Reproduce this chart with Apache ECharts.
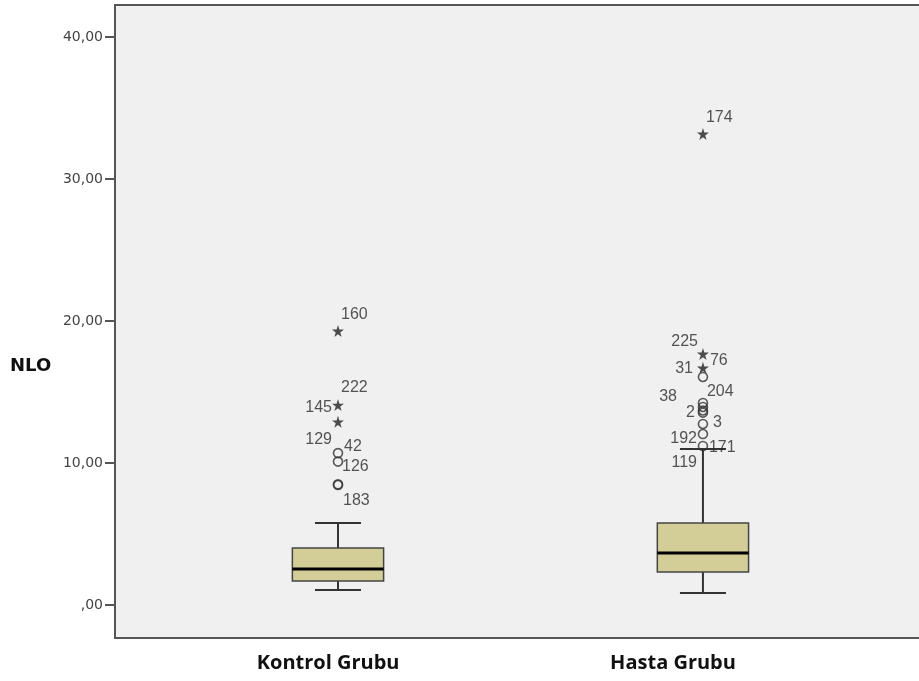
<!DOCTYPE html>
<html>
<head>
<meta charset="utf-8">
<script src="https://cdn.jsdelivr.net/npm/echarts@6/dist/echarts.min.js"></script>
<style>
  html, body { margin: 0; padding: 0; background: #fff; }
  #chart { width: 919px; height: 681px; }
</style>
</head>
<body>
<div id="chart"></div>
<script>
// box statistics per group
var categories = ['Kontrol Grubu', 'Hasta Grubu'];
var lowerWhisker = [1.06, 0.85];
var q1 = [1.69, 2.32];
var median = [2.54, 3.66];
var q3 = [4.01, 5.77];
var upperWhisker = [5.77, 10.99];
var yTicks = [0, 10, 20, 30, 40];

// outliers (o) and extremes (*)
var kontrolOutliers = [10.7, 10.1, 8.45, 8.5];
var kontrolExtremes = [19.3, 14.08, 12.9];
var hastaOutliers = [16.06, 14.23, 13.95, 13.7, 13.55, 12.75, 12.04, 11.2];
var hastaExtremes = [33.17, 17.68, 16.7];

// case numbers written next to the points
var caseIds = ['160', '222', '145', '129', '42', '126', '183',
  '174', '225', '76', '31', '38', '204', '2', '3', '192', '171', '119'];
var caseGroup = [0, 0, 0, 0, 0, 0, 0, 1, 1, 1, 1, 1, 1, 1, 1, 1, 1, 1];
var caseValues = [19.3, 14.08, 14.08, 10.7, 10.7, 10.1, 8.45,
  33.17, 17.68, 17.68, 16.7, 13.95, 14.23, 13.55, 12.75, 12.04, 11.2, 11.2];

// label placement (pixels from the point), kept apart from the data
var labelPos = [
  [3, -16, 'left'], [3, -17, 'left'], [-6, 3, 'right'], [-6, -13, 'right'],
  [6, -6, 'left'], [4, 5, 'left'], [5, 16, 'left'],
  [3, -16, 'left'], [-5, -12, 'right'], [7, 7, 'left'], [-10, 1, 'right'],
  [-26, -10, 'right'], [4, -11, 'left'], [-8, 0, 'right'], [10, -1, 'left'],
  [-6, 5, 'right'], [6, 2, 'left'], [-6, 17, 'right']
];
var catLabelAt = [0.973, 1.918];

var starPath = 'path://M50,0 L61,35 L98,35 L68,57 L79,91 L50,70 L21,91 L32,57 L2,35 L39,35 Z';

var boxData = categories.map(function (c, i) {
  return [i + 1, lowerWhisker[i], q1[i], median[i], q3[i], upperWhisker[i]];
});

function pts(arr, x) {
  return arr.map(function (v) { return [x, v]; });
}

var chart = echarts.init(document.getElementById('chart'));

var frameLine = { show: true, onZero: false, lineStyle: { color: '#555', width: 2 } };

var option = {
  backgroundColor: '#fff',
  animation: false,
  grid: {
    left: 115, right: 0, top: 5, bottom: 43,
    show: true,
    backgroundColor: '#F0F0F0',
    borderWidth: 0
  },
  xAxis: [{
    type: 'value',
    min: 0.389,
    max: 2.592,
    axisLine: frameLine,
    axisTick: { show: false },
    splitLine: { show: false },
    axisLabel: {
      customValues: catLabelAt,
      formatter: function (v) { return v < 1.5 ? categories[0] : categories[1]; },
      margin: 15,
      fontFamily: 'Open Sans',
      fontWeight: 'bold',
      fontSize: 20,
      color: '#111'
    }
  }, {
    // top edge of the frame
    type: 'value',
    position: 'top',
    min: 0.389,
    max: 2.592,
    axisLine: frameLine,
    axisTick: { show: false },
    axisLabel: { show: false },
    splitLine: { show: false }
  }],
  yAxis: {
    type: 'value',
    min: -2.32,
    max: 42.25,
    axisLine: frameLine,
    axisTick: {
      show: true,
      customValues: yTicks,
      length: 10,
      lineStyle: { color: '#555', width: 2 }
    },
    splitLine: { show: false },
    axisLabel: {
      customValues: yTicks,
      formatter: function (v) { return v === 0 ? ',00' : v + ',00'; },
      margin: 12,
      fontFamily: 'DejaVu Sans',
      fontSize: 14,
      color: '#444'
    }
  },
  graphic: [{
    type: 'text',
    left: 10,
    top: 357,
    style: {
      text: 'NLO',
      font: 'bold 18px "DejaVu Sans"',
      fill: '#111'
    }
  }],
  series: [
    {
      type: 'custom',
      data: boxData,
      encode: { x: 0, y: [1, 2, 3, 4, 5] },
      renderItem: function (params, api) {
        var x = api.value(0);
        var half = api.size([0.125, 0])[0];
        var capHalf = api.size([0.063, 0])[0];
        var pMin = api.coord([x, api.value(1)]);
        var pQ1 = api.coord([x, api.value(2)]);
        var pMed = api.coord([x, api.value(3)]);
        var pQ3 = api.coord([x, api.value(4)]);
        var pMax = api.coord([x, api.value(5)]);
        var ln = { stroke: '#333', lineWidth: 2 };
        return {
          type: 'group',
          children: [
            { type: 'line', shape: { x1: pMax[0], y1: pMax[1], x2: pQ3[0], y2: pQ3[1] }, style: ln },
            { type: 'line', shape: { x1: pMin[0], y1: pMin[1], x2: pQ1[0], y2: pQ1[1] }, style: ln },
            { type: 'line', shape: { x1: pMax[0] - capHalf, y1: pMax[1], x2: pMax[0] + capHalf, y2: pMax[1] }, style: ln },
            { type: 'line', shape: { x1: pMin[0] - capHalf, y1: pMin[1], x2: pMin[0] + capHalf, y2: pMin[1] }, style: ln },
            {
              type: 'rect',
              shape: { x: pQ3[0] - half, y: pQ3[1], width: half * 2, height: pQ1[1] - pQ3[1] },
              style: { fill: '#D3CE97', stroke: '#444', lineWidth: 1.5 }
            },
            { type: 'line', shape: { x1: pMed[0] - half, y1: pMed[1], x2: pMed[0] + half, y2: pMed[1] }, style: { stroke: '#000', lineWidth: 3 } }
          ]
        };
      },
      z: 2
    },
    {
      type: 'scatter',
      data: pts(kontrolOutliers, 1).concat(pts(hastaOutliers, 2)),
      symbol: 'circle',
      symbolSize: 9,
      itemStyle: { color: 'rgba(0,0,0,0)', borderColor: '#333', borderWidth: 1.6 },
      z: 3
    },
    {
      type: 'scatter',
      data: pts(kontrolExtremes, 1).concat(pts(hastaExtremes, 2)),
      symbol: starPath,
      symbolSize: 12,
      itemStyle: { color: '#222' },
      z: 3
    },
    {
      type: 'scatter',
      symbolSize: 1,
      itemStyle: { color: 'rgba(0,0,0,0)' },
      data: caseIds.map(function (id, i) {
        var p = labelPos[i];
        return {
          value: [caseGroup[i] + 1, caseValues[i]],
          name: id,
          label: { align: p[2], offset: [p[0], p[1]] }
        };
      }),
      label: {
        show: true,
        position: 'inside',
        verticalAlign: 'middle',
        formatter: '{b}',
        fontFamily: 'Liberation Sans',
        fontSize: 16,
        color: '#2a2a2a'
      },
      z: 4
    }
  ]
};

chart.setOption(option);
</script>
</body>
</html>
